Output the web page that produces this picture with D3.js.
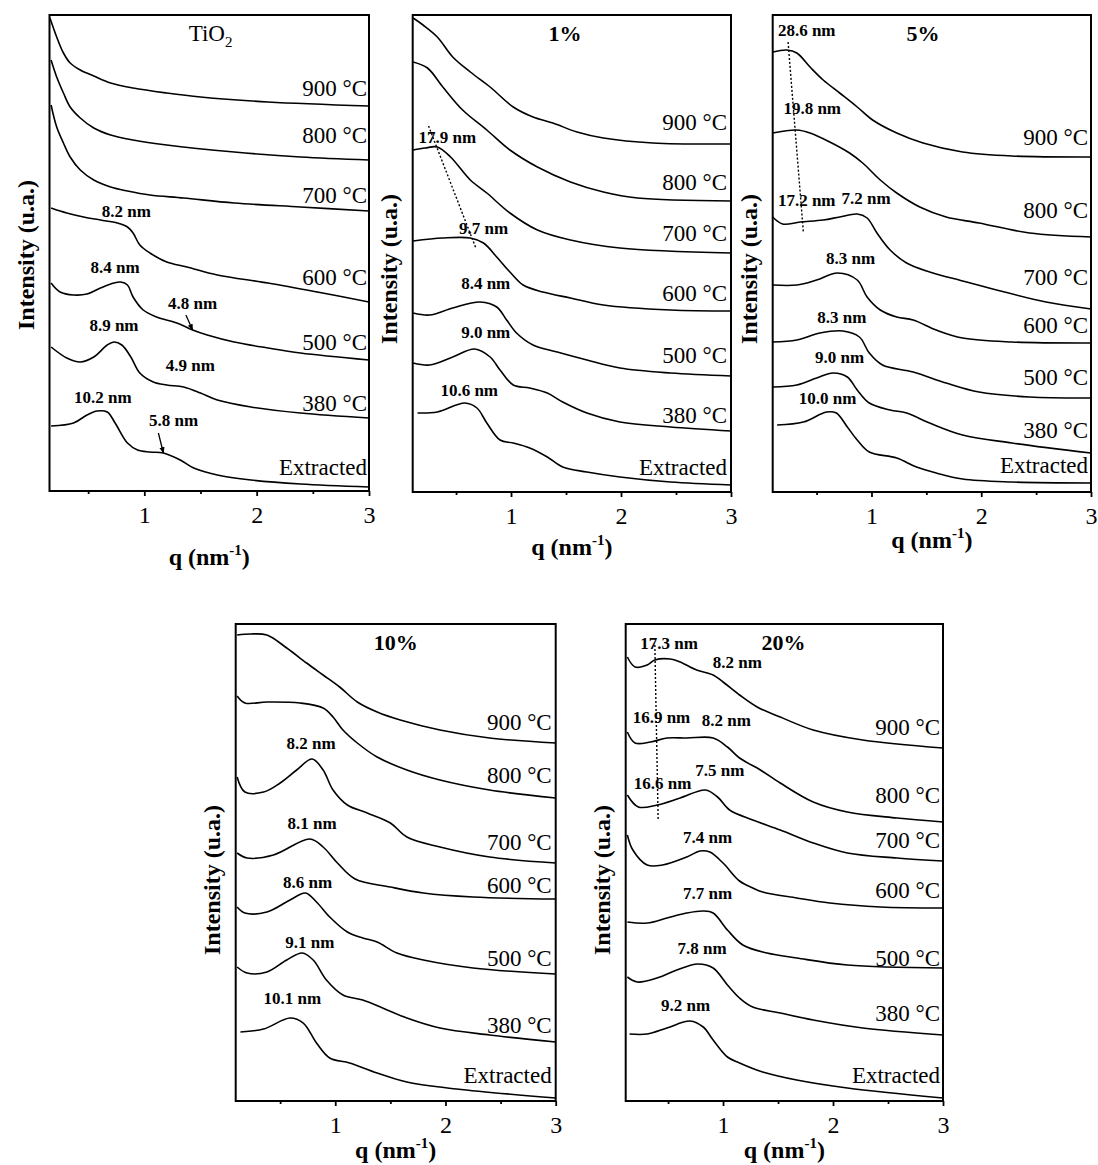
<!DOCTYPE html>
<html><head><meta charset="utf-8">
<script src="https://cdn.jsdelivr.net/npm/d3@7"></script>
<style>body{margin:0;background:#fff}svg{display:block}</style>
</head><body>
<script>
// ---------- DATA ----------
const seriesNames = ["Extracted", "380 °C", "500 °C", "600 °C", "700 °C", "800 °C", "900 °C"];
const xTicks = [1, 2, 3];
const xMinorTicks = [0.5, 1.5, 2.5];
const panelTitles = ["TiO2", "1%", "5%", "10%", "20%"];
const qMax = 3;
const qMins = [0.156, 0.106, 0.1, 0.097, 0.115];
const intensityMax = [47.6, 47.7, 47.7, 47.7, 47.7];

// each curve: [q (nm^-1), intensity (u.a.)]; order = seriesNames
const curvesTiO2 = [
  [[.17,6.5],[.37,6.8],[.49,7.6],[.58,8.0],[.67,7.9],[.74,6.8],[.85,4.8],[.94,4.1],[1.05,3.9],[1.17,3.8],[1.32,3.1],[1.44,2.3],[1.65,1.6],[1.95,1.1],[2.39,0.7],[3.0,0.4]],
  [[.17,14.4],[.31,13.3],[.43,12.9],[.55,13.4],[.67,14.6],[.73,14.9],[.80,14.6],[.88,13.4],[.96,11.8],[1.08,10.9],[1.20,10.6],[1.35,10.4],[1.50,9.8],[1.65,9.1],[1.95,8.4],[2.39,7.8],[3.0,7.3]],
  [[.17,20.8],[.25,19.9],[.37,19.6],[.49,19.7],[.61,20.3],[.73,20.8],[.79,20.9],[.85,20.6],[.90,19.4],[.99,18.1],[1.11,17.4],[1.29,16.8],[1.43,16.1],[1.56,15.6],[1.80,14.9],[2.10,14.3],[2.39,13.8],[3.0,13.1]],
  [[.17,28.3],[.31,27.8],[.46,27.4],[.61,27.1],[.76,26.8],[.85,26.4],[.90,25.8],[.96,24.6],[1.05,23.8],[1.20,22.9],[1.38,22.4],[1.65,21.6],[2.10,20.8],[2.54,19.9],[3.0,18.9]],
  [[.17,38.6],[.22,36.4],[.28,34.8],[.34,33.4],[.43,32.1],[.55,31.1],[.70,30.4],[.85,30.0],[1.05,29.6],[1.35,29.3],[1.80,28.8],[2.39,28.4],[3.0,28.0]],
  [[.17,43.1],[.22,41.4],[.28,39.8],[.34,38.4],[.43,37.3],[.55,36.3],[.70,35.6],[.90,35.1],[1.20,34.6],[1.80,33.9],[2.39,33.4],[3.0,33.1]],
  [[.16,47.3],[.22,45.4],[.28,43.8],[.34,42.8],[.43,42.1],[.55,41.5],[.70,40.8],[.90,40.3],[1.20,39.8],[1.50,39.4],[2.10,38.9],[3.0,38.5]]
];
const curves1 = [
  [[.15,7.9],[.33,8.0],[.58,8.9],[.69,8.4],[.78,6.9],[.90,5.2],[1.02,4.9],[1.17,4.4],[1.33,3.5],[1.47,2.5],[1.69,2.0],[1.99,1.5],[2.45,1.0],[3.0,0.7]],
  [[.11,12.9],[.26,12.7],[.47,13.5],[.67,14.3],[.81,13.5],[.90,12.2],[1.02,10.7],[1.17,10.4],[1.33,9.9],[1.47,9.0],[1.69,7.9],[1.99,7.0],[2.45,6.5],[3.0,6.1]],
  [[.11,17.9],[.26,17.7],[.47,18.4],[.72,19.0],[.87,18.5],[.96,17.2],[1.05,15.9],[1.20,14.7],[1.42,14.0],[1.69,13.2],[1.99,12.4],[2.45,11.9],[3.0,11.6]],
  [[.11,25.1],[.38,25.4],[.63,25.4],[.75,24.9],[.87,23.5],[.99,22.0],[1.11,20.7],[1.29,20.0],[1.54,19.4],[1.84,18.7],[2.45,18.2],[3.0,18.1]],
  [[.11,34.2],[.22,34.4],[.33,34.5],[.45,33.5],[.63,31.2],[.78,29.9],[.99,27.9],[1.24,26.2],[1.54,25.2],[1.99,24.4],[3.0,23.9]],
  [[.11,43.0],[.24,42.4],[.38,40.5],[.56,38.2],[.78,36.2],[.99,34.2],[1.24,32.5],[1.54,31.0],[1.84,30.0],[2.15,29.4],[3.0,29.1]],
  [[.11,47.4],[.20,46.7],[.33,45.5],[.47,43.5],[.63,42.0],[.81,40.5],[1.02,38.5],[1.20,37.5],[1.38,36.9],[1.60,36.0],[1.84,35.4],[2.29,34.9],[3.0,34.8]]
];
const curves5 = [
  [[.14,6.7],[.38,7.0],[.59,8.0],[.68,7.9],[.78,6.5],[.87,5.2],[.98,4.0],[1.23,3.4],[1.41,2.5],[1.59,1.9],[1.83,1.3],[2.28,1.0],[3.0,0.9]],
  [[.10,10.5],[.32,10.7],[.50,11.4],[.65,11.9],[.78,11.5],[.87,10.2],[.98,8.9],[1.17,8.2],[1.32,7.9],[1.53,6.9],[1.83,5.7],[2.28,4.9],[3.0,3.9]],
  [[.10,15.0],[.32,15.2],[.53,15.9],[.74,16.1],[.89,15.5],[.98,13.9],[1.10,12.7],[1.38,12.0],[1.68,10.9],[1.98,10.0],[2.44,9.5],[3.0,9.4]],
  [[.10,20.7],[.32,20.7],[.50,21.2],[.69,21.9],[.87,21.2],[.96,19.5],[1.08,18.2],[1.23,17.5],[1.38,17.2],[1.59,16.2],[1.83,15.4],[2.28,15.0],[3.0,14.9]],
  [[.10,27.5],[.19,26.8],[.35,27.0],[.56,27.2],[.71,27.5],[.87,27.8],[.96,27.4],[1.05,25.9],[1.17,24.2],[1.32,22.9],[1.53,22.0],[1.83,21.1],[2.14,20.2],[2.59,19.0],[3.0,18.3]],
  [[.10,35.9],[.32,36.2],[.44,35.9],[.62,35.0],[.80,33.9],[.92,32.9],[1.08,31.2],[1.23,29.9],[1.44,28.5],[1.68,27.5],[1.98,26.9],[2.44,25.9],[3.0,25.5]],
  [[.10,44.0],[.23,44.2],[.32,43.9],[.44,42.5],[.56,41.2],[.71,39.9],[.87,38.5],[1.01,37.2],[1.23,35.9],[1.47,34.9],[1.83,34.0],[2.28,33.6],[3.0,33.5]]
];
const curves10 = [
  [[.14,6.9],[.35,7.2],[.59,8.3],[.71,7.8],[.83,5.8],[.95,4.3],[1.13,3.8],[1.38,2.8],[1.65,1.9],[2.10,1.2],[3.0,0.3]],
  [[.11,13.4],[.20,12.8],[.38,12.9],[.56,14.1],[.70,14.8],[.80,14.1],[.92,12.1],[1.07,10.6],[1.25,10.1],[1.43,9.3],[1.65,8.3],[1.95,7.3],[2.40,6.6],[3.0,5.9]],
  [[.11,19.4],[.18,18.8],[.38,18.9],[.59,20.1],[.73,20.8],[.83,19.9],[.95,18.4],[1.11,16.9],[1.25,16.3],[1.38,15.9],[1.56,14.8],[1.80,14.1],[2.25,13.3],[3.0,12.7]],
  [[.11,24.8],[.20,24.3],[.44,24.6],[.77,26.2],[.89,25.4],[1.02,23.8],[1.18,22.2],[1.50,21.4],[1.80,20.8],[2.25,20.4],[3.0,20.2]],
  [[.11,32.4],[.18,30.9],[.35,30.9],[.50,31.8],[.65,33.1],[.79,34.2],[.89,33.1],[.98,31.1],[1.11,29.6],[1.29,28.8],[1.50,27.8],[1.65,26.4],[1.95,25.4],[2.40,24.4],[3.0,23.8]],
  [[.11,40.5],[.18,39.8],[.38,39.9],[.68,39.8],[.89,39.3],[.98,38.4],[1.07,37.1],[1.20,35.8],[1.38,34.4],[1.65,33.1],[1.95,32.1],[2.40,31.1],[3.0,30.3]],
  [[.11,46.6],[.23,46.7],[.38,46.6],[.56,45.3],[.74,43.8],[.89,42.6],[1.04,41.4],[1.20,39.9],[1.38,38.9],[1.59,38.1],[1.95,37.1],[2.40,36.3],[3.0,35.8]]
];
const curves20 = [
  [[.15,6.7],[.31,6.7],[.49,7.3],[.70,8.0],[.82,7.4],[.91,6.1],[1.04,4.4],[1.15,3.8],[1.36,2.9],[1.67,2.1],[2.13,1.3],[3.0,0.3]],
  [[.13,12.4],[.22,11.9],[.40,12.3],[.58,13.1],[.77,13.7],[.91,13.3],[1.04,11.6],[1.15,10.3],[1.27,9.4],[1.52,8.8],[1.82,8.1],[2.27,7.3],[3.0,6.6]],
  [[.13,17.9],[.31,17.8],[.49,18.3],[.67,18.8],[.82,19.0],[.91,18.8],[1.04,17.1],[1.18,15.6],[1.40,14.8],[1.67,14.3],[2.13,13.6],[3.0,13.3]],
  [[.13,26.6],[.18,25.1],[.31,23.6],[.45,23.6],[.67,24.4],[.79,25.0],[.88,24.9],[1.00,23.8],[1.15,22.0],[1.27,21.3],[1.36,20.9],[1.67,20.3],[1.97,19.8],[2.43,19.4],[3.0,19.3]],
  [[.13,30.6],[.23,29.4],[.40,29.6],[.61,30.3],[.84,31.1],[.95,30.4],[1.06,29.1],[1.27,28.1],[1.52,27.1],[1.82,25.8],[2.13,24.8],[2.58,24.3],[3.0,24.0]],
  [[.13,36.9],[.20,35.8],[.34,35.9],[.49,36.3],[.67,36.3],[.91,36.3],[1.04,35.4],[1.15,34.3],[1.34,33.1],[1.52,31.8],[1.82,29.9],[2.13,28.9],[2.58,28.3],[3.0,27.9]],
  [[.13,44.4],[.20,43.4],[.31,43.6],[.38,44.1],[.52,44.2],[.61,43.9],[.76,43.1],[.91,42.6],[1.00,41.9],[1.15,40.6],[1.31,39.4],[1.52,38.4],[1.82,37.1],[2.27,36.1],[3.0,35.3]]
];
const allCurves = [curvesTiO2, curves1, curves5, curves10, curves20];

// intensity at which each series label sits (order = seriesNames)
const labelLevels = [
  [2.4, 8.8, 14.9, 21.4, 29.6, 35.6, 40.3],
  [2.5, 7.7, 13.7, 19.9, 25.9, 31.0, 37.0],
  [2.7, 6.2, 11.5, 16.7, 21.5, 28.2, 35.5],
  [2.6, 7.6, 14.3, 21.6, 25.9, 32.6, 37.9],
  [2.6, 8.8, 14.3, 21.1, 26.1, 30.6, 37.4]
];
// panel title anchor [q, I]
const titleAnchors = [[1.59, 45.8], [1.49, 45.9], [1.47, 45.9], [1.55, 45.9], [1.55, 45.9]];
// size annotations [text, q, I]
const notesTiO2 = [["8.2 nm",.84,28.0],["8.4 nm",.74,22.4],["4.8 nm",1.43,18.8],["8.9 nm",.73,16.6],["4.9 nm",1.41,12.6],["10.2 nm",.63,9.4],["5.8 nm",1.26,7.1]];
const notes1 = [["17.9 nm",.42,35.5],["9.7 nm",.75,26.4],["8.4 nm",.77,20.9],["9.0 nm",.77,16.0],["10.6 nm",.62,10.2]];
const notes5 = [["28.6 nm",.41,46.2],["19.8 nm",.46,38.4],["17.2 nm",.41,29.2],["7.2 nm",.95,29.4],["8.3 nm",.81,23.4],["8.3 nm",.73,17.5],["9.0 nm",.71,13.5],["10.0 nm",.60,9.4]];
const notes10 = [["8.2 nm",.78,35.8],["8.1 nm",.79,27.8],["8.6 nm",.75,21.9],["9.1 nm",.77,15.9],["10.1 nm",.61,10.3]];
const notes20 = [["17.3 nm",.51,45.8],["8.2 nm",1.13,43.9],["16.9 nm",.44,38.4],["8.2 nm",1.03,38.1],["7.5 nm",.97,33.1],["16.6 nm",.45,31.8],["7.4 nm",.86,26.4],["7.7 nm",.86,20.8],["7.8 nm",.81,15.3],["9.2 nm",.66,9.6]];
const allNotes = [notesTiO2, notes1, notes5, notes10, notes20];
// arrows [q1, I1, q2, I2] (panel TiO2)
const arrowsTiO2 = [[1.37, 17.6, 1.43, 16.1], [1.125, 5.8, 1.17, 3.8]];
// dotted guide lines [q1, I1, q2, I2]
const guides = [[], [[.25, 36.6, .68, 24.4]], [[.24, 45.0, .38, 25.9]], [], [[.38, 45.6, .41, 28.1]]];

// ---------- LAYOUT ----------
const FONT = "'Liberation Serif','Times New Roman',serif";
const panels = [
  {left: 49.5, right: 369, top: 15, bottom: 491, xTitleDy: 66, yTitleCy: 255, labelPad: 2},
  {left: 412.7, right: 731, top: 15, bottom: 492, xTitleDy: 55, yTitleCy: 269, labelPad: 4},
  {left: 772.7, right: 1091, top: 15, bottom: 492, xTitleDy: 48, yTitleCy: 269, labelPad: 3},
  {left: 235.7, right: 555.7, top: 624, bottom: 1101, xTitleDy: 49, yTitleCy: 880, labelPad: 4},
  {left: 625.7, right: 943, top: 624, bottom: 1101, xTitleDy: 49, yTitleCy: 880, labelPad: 3}
];

const svg = d3.select('body').append('svg').attr('width', 1098).attr('height', 1165)
  .style('font-family', FONT);
svg.append('rect').attr('width', 1098).attr('height', 1165).attr('fill', '#fff');
const defs = svg.append('defs');
defs.append('marker').attr('id', 'arrow').attr('viewBox', '0 0 10 10')
  .attr('refX', 9).attr('refY', 5).attr('markerWidth', 5).attr('markerHeight', 5)
  .attr('orient', 'auto').append('path').attr('d', 'M0,1 L10,5 L0,9 Z').attr('fill', '#000');

panels.forEach((p, i) => {
  const x = d3.scaleLinear().domain([qMins[i], qMax]).range([p.left, p.right]);
  const y = d3.scaleLinear().domain([0, intensityMax[i]]).range([p.bottom, p.top]);
  const g = svg.append('g');

  defs.append('clipPath').attr('id', 'clip' + i).append('rect')
    .attr('x', p.left).attr('y', p.top).attr('width', p.right - p.left).attr('height', p.bottom - p.top);

  const line = d3.line().x(d => x(d[0])).y(d => y(d[1])).curve(d3.curveCatmullRom.alpha(0.5));
  g.append('g').attr('clip-path', `url(#clip${i})`).selectAll('path').data(allCurves[i]).join('path')
    .attr('d', line).attr('fill', 'none').attr('stroke', '#000').attr('stroke-width', 1.6)
    .attr('stroke-linejoin', 'round');

  // axes
  const ax = g.append('g').attr('transform', `translate(0,${p.bottom})`)
    .call(d3.axisBottom(x).tickValues(xTicks).tickFormat(d3.format('d')).tickSizeInner(5).tickSizeOuter(0));
  ax.select('.domain').remove();
  ax.selectAll('line').attr('stroke-width', 1.8);
  ax.selectAll('text').attr('y', 24).attr('dy', '0.35em').attr('font-size', 24).attr('font-family', FONT).attr('fill', '#000');
  const axm = g.append('g').attr('transform', `translate(0,${p.bottom})`)
    .call(d3.axisBottom(x).tickValues(xMinorTicks).tickFormat('').tickSizeInner(3).tickSizeOuter(0));
  axm.select('.domain').remove();
  axm.selectAll('line').attr('stroke-width', 1.8);

  // frame
  g.append('rect').attr('x', p.left).attr('y', p.top).attr('width', p.right - p.left).attr('height', p.bottom - p.top)
    .attr('fill', 'none').attr('stroke', '#000').attr('stroke-width', 2);

  // series labels
  g.selectAll('text.series').data(seriesNames).join('text').attr('class', 'series')
    .attr('x', p.right - p.labelPad).attr('y', (d, k) => y(labelLevels[i][k]))
    .attr('dy', '0.35em').attr('text-anchor', 'end').attr('font-size', 23).text(d => d);

  // title
  const t = g.append('text').attr('x', x(titleAnchors[i][0])).attr('y', y(titleAnchors[i][1]))
    .attr('dy', '0.35em').attr('text-anchor', 'middle');
  if (panelTitles[i] === 'TiO2') {
    t.attr('font-size', 23);
    t.append('tspan').text('TiO');
    t.append('tspan').attr('font-size', 15).attr('dy', 6).text('2');
  } else {
    t.attr('font-size', 22).attr('font-weight', 'bold').text(panelTitles[i]);
  }

  // notes
  g.selectAll('text.note').data(allNotes[i]).join('text').attr('class', 'note')
    .attr('x', d => x(d[1])).attr('y', d => y(d[2])).attr('dy', '0.35em')
    .attr('text-anchor', 'middle').attr('font-size', 17).attr('font-weight', 'bold').text(d => d[0]);

  // guides
  g.selectAll('line.guide').data(guides[i]).join('line').attr('class', 'guide')
    .attr('x1', d => x(d[0])).attr('y1', d => y(d[1])).attr('x2', d => x(d[2])).attr('y2', d => y(d[3]))
    .attr('stroke', '#000').attr('stroke-width', 1.4).attr('stroke-dasharray', '2,2');

  if (i === 0) {
    g.selectAll('line.arrow').data(arrowsTiO2).join('line').attr('class', 'arrow')
      .attr('x1', d => x(d[0])).attr('y1', d => y(d[1])).attr('x2', d => x(d[2])).attr('y2', d => y(d[3]))
      .attr('stroke', '#000').attr('stroke-width', 1.3).attr('marker-end', 'url(#arrow)');
  }

  // axis titles
  const xt = g.append('text').attr('x', (p.left + p.right) / 2).attr('y', p.bottom + p.xTitleDy)
    .attr('dy', '0.35em').attr('text-anchor', 'middle').attr('font-size', 24).attr('font-weight', 'bold');
  xt.append('tspan').text('q (nm');
  xt.append('tspan').attr('font-size', 15).attr('dy', -10).text('-1');
  xt.append('tspan').attr('dy', 10).text(')');

  g.append('text').attr('transform', `translate(${p.left - 24},${p.yTitleCy}) rotate(-90)`)
    .attr('dy', '0.35em').attr('text-anchor', 'middle').attr('font-size', 24).attr('font-weight', 'bold')
    .text('Intensity (u.a.)');
});
</script>
</body></html>
